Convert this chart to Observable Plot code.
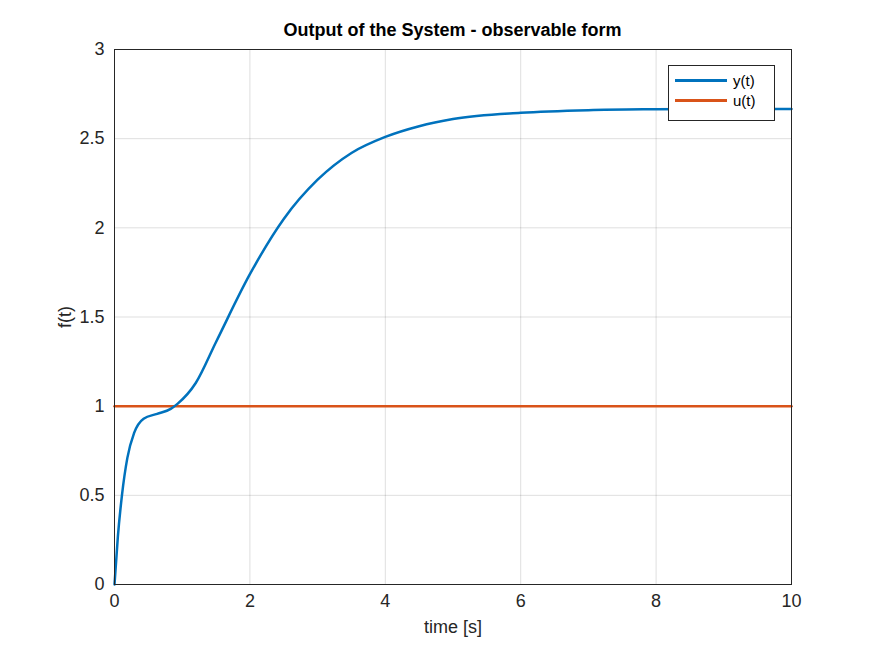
<!DOCTYPE html>
<html><head><meta charset="utf-8">
<script src="https://cdn.jsdelivr.net/npm/d3@7"></script>
<script src="https://cdn.jsdelivr.net/npm/@observablehq/plot@0.6"></script>
<style>body{margin:0;background:#fff;font-family:Arial,"Liberation Sans",sans-serif}
#wrap{position:relative;width:875px;height:656px}
#title{position:absolute;top:20px;left:114px;width:677px;text-align:center;font-weight:bold;font-size:18px;color:#000}
#leg{position:absolute;left:668px;top:65px;width:107px;height:56px;border:1px solid #262626;background:#fff;font-size:15px;box-sizing:border-box}
.li{display:flex;align-items:center;height:20px;margin-top:4px;padding-left:6px}
.ln{width:52px;height:3px;margin-right:6px}
</style></head><body>
<div id="wrap"><div id="title">Output of the System - observable form</div><div id="leg">
<div class="li"><div class="ln" style="background:#0072BD"></div>y(t)</div>
<div class="li" style="margin-top:0"><div class="ln" style="background:#D95319"></div>u(t)</div></div></div>
<script>
const tY = [0,0.05,0.11,0.19,0.29,0.43,0.63,0.83,0.93,1.2,1.5,2,2.5,3,3.5,4,4.5,5,6,7,8,9,10];
const yY = [0,0.27,0.5,0.71,0.85,0.93,0.957,0.985,1.013,1.13,1.36,1.74,2.05,2.27,2.42,2.51,2.57,2.61,2.645,2.66,2.665,2.667,2.667];
const tU = [0,10], uU = [1,1];
const xTicks = [0,2,4,6,8,10], yTicks = [0,0.5,1,1.5,2,2.5,3];
const yd = tY.map((t,i)=>({t,v:yY[i]})), ud = tU.map((t,i)=>({t,v:uU[i]}));
const fmt = d => String(d);
const p = Plot.plot({
  width:875, height:656, marginLeft:114, marginRight:84, marginTop:49, marginBottom:72,
  style:{fontSize:"16px", fontFamily:"Arial, Liberation Sans, sans-serif", color:"#262626", background:"transparent"},
  x:{domain:[0,10]},
  y:{domain:[0,3]},
  marks:[
    Plot.gridX(xTicks,{stroke:"#000",strokeOpacity:0.13}),
    Plot.gridY(yTicks,{stroke:"#000",strokeOpacity:0.13}),
    Plot.axisX({ticks:xTicks,tickFormat:fmt,tickSize:0,tickPadding:10,fontSize:16,label:"time [s]",labelAnchor:"center",labelArrow:"none",labelOffset:48}),
    Plot.axisY({ticks:yTicks,tickFormat:fmt,tickSize:0,tickPadding:10,fontSize:16,label:"f(t)",labelAnchor:"center",labelArrow:"none",labelOffset:56}),
    Plot.line(ud,{x:"t",y:"v",stroke:"#D95319",strokeWidth:2.5}),
    Plot.line(yd,{x:"t",y:"v",stroke:"#0072BD",strokeWidth:2.5,curve:"monotone-x"}),
    Plot.frame({stroke:"#262626"})
  ]
});
p.querySelectorAll('[aria-label$="label"] text, [aria-label="x-axis label"] text, [aria-label="y-axis label"] text').forEach(t=>t.style.fontSize="18px");
p.style.position="absolute";p.style.left="0";p.style.top="0";
document.getElementById("wrap").prepend(p);
</script></body></html>
